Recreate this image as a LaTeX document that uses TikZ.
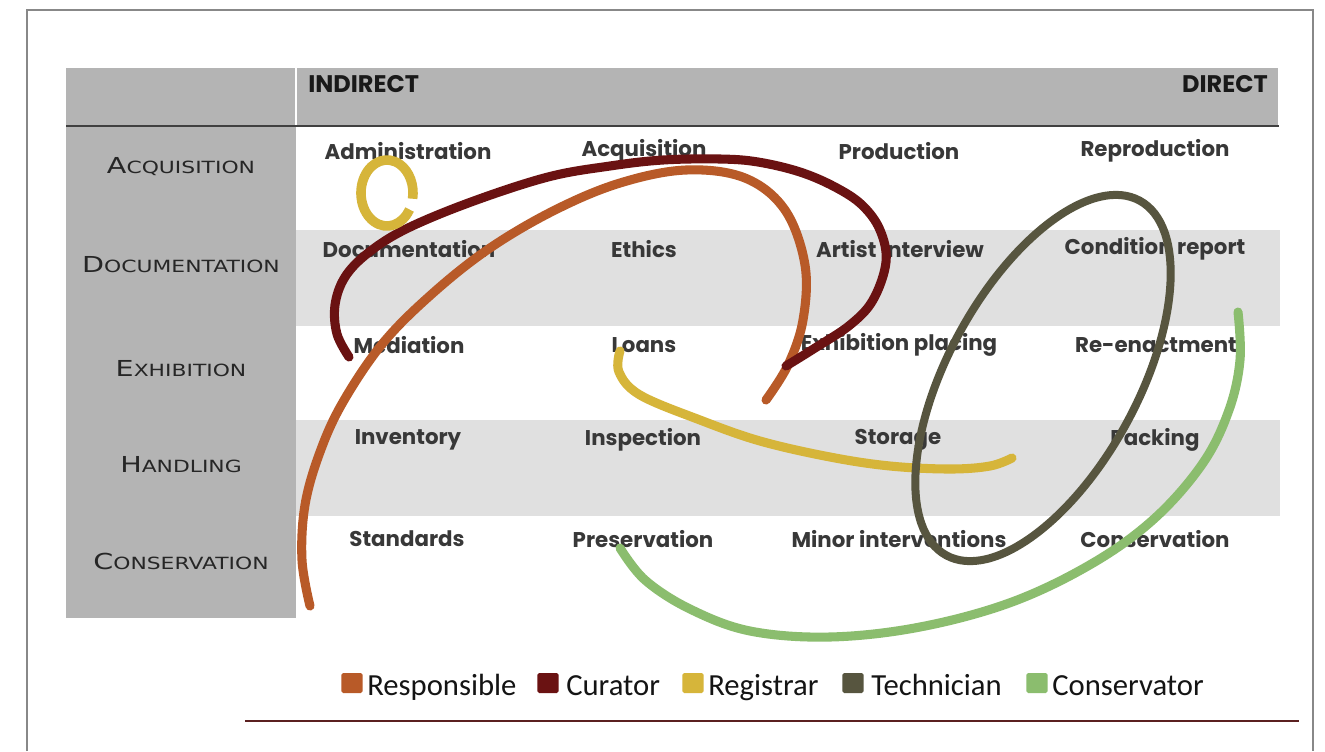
\documentclass[tikz,border=0pt]{standalone}
\usepackage{fontspec}
\newfontfamily\cellfont{Poppins}
\newfontfamily\lblfont[FakeStretch=1.3]{DejaVu Sans}
\newfontfamily\legfont{Carlito}
\newcommand\fakesc[2]{{\fontsize{16.5}{17}\selectfont #1}{\fontsize{12.6}{13}\selectfont #2}}
\definecolor{hdrgray}{HTML}{B4B4B4}
\definecolor{bandgray}{HTML}{E0E0E0}
\definecolor{rulegray}{HTML}{404040}
\definecolor{framegray}{HTML}{888888}
\definecolor{txtdark}{HTML}{383838}
\definecolor{cResp}{HTML}{B85A28}
\definecolor{cCur}{HTML}{6A1212}
\definecolor{cReg}{HTML}{D6B53A}
\definecolor{cTech}{HTML}{57553F}
\definecolor{cCons}{HTML}{8BBD6E}
\definecolor{bline}{HTML}{5B2020}
\begin{document}
\begin{tikzpicture}[x=0.75pt,y=-0.75pt,
  hdr/.style={inner sep=0pt,font=\cellfont\bfseries\fontsize{18}{18}\selectfont,text=black!90},
  rowlbl/.style={inner sep=0pt,font=\lblfont,text=black!85},
  cell/.style={inner sep=0pt,font=\cellfont\bfseries\fontsize{16}{16}\selectfont,text=txtdark},
  legsq/.style={inner sep=0pt,minimum width=15.8pt,minimum height=15pt,rounded corners=1.2pt,draw=none},
  legtxt/.style={inner sep=0pt,anchor=base west,font=\legfont\fontsize{23}{23}\selectfont,text=black!92},
  role/.style={line width=6.8pt,line cap=round,line join=round},
]
\useasboundingbox (0,0) rectangle (1325,751);
\fill[white] (0,0) rectangle (1325,751);
% outer frame
\draw[framegray,line width=1.1pt] (27,751) -- (27,10) -- (1313,10) -- (1313,751);
% table background
\fill[hdrgray] (66,68) rectangle (1278,125);
\draw[white,line width=0.8pt] (296,68) -- (296,125);
\fill[hdrgray] (66,127) rectangle (296,618);
\fill[bandgray] (296,230) rectangle (1280,326);
\fill[bandgray] (296,420) rectangle (1280,516);
\draw[rulegray,line width=2.2pt] (66,126) -- (1279,126);
% header
\node[hdr,anchor=west] (indirect) at (308,84) {INDIRECT};
\node[hdr,anchor=east] (direct) at (1268,84) {DIRECT};
% row labels
\node[rowlbl] (rAcq) at (181,167) {\fakesc{A}{CQUISITION}};
\node[rowlbl] (rDoc) at (181,265) {\fakesc{D}{OCUMENTATION}};
\node[rowlbl] (rExh) at (181,369) {\fakesc{E}{XHIBITION}};
\node[rowlbl] (rHan) at (181,465) {\fakesc{H}{ANDLING}};
\node[rowlbl] (rCon) at (181,561) {\fakesc{C}{ONSERVATION}};
% cells
\node[cell] (c11) at (408,151) {Administration};
\node[cell] (c12) at (644,151) {Acquisition};
\node[cell] (c13) at (899,151) {Production};
\node[cell] (c14) at (1155,151) {Reproduction};
\node[cell] (c21) at (409,249) {Documentation};
\node[cell] (c22) at (644,249) {Ethics};
\node[cell] (c23) at (900,249) {Artist interview};
\node[cell] (c24) at (1155,249) {Condition report};
\node[cell] (c31) at (409,345) {Mediation};
\node[cell] (c32) at (644,345) {Loans};
\node[cell] (c33) at (899,345) {Exhibition placing};
\node[cell] (c34) at (1156,345) {Re-enactment};
\node[cell] (c41) at (408,440) {Inventory};
\node[cell] (c42) at (643,440) {Inspection};
\node[cell] (c43) at (898,440) {Storage};
\node[cell] (c44) at (1155,440) {Packing};
\node[cell] (c51) at (407,539) {Standards};
\node[cell] (c52) at (643,539) {Preservation};
\node[cell] (c53) at (899,539) {Minor interventions};
\node[cell] (c54) at (1155,539) {Conservation};
% role curves
\draw[role,cResp] plot[smooth,tension=0.6] coordinates {(310,606) (302,560) (305,505) (320,452) (343,402) (383,343) (433,293) (490,248) (555,210) (620,183) (686,170) (745,178) (785,210) (805,265) (803,320) (788,365) (766,400)};
\draw[role,cCur] plot[smooth,tension=0.6] coordinates {(349,357) (337,334) (335,305) (345,277) (368,253) (406,229) (471,202) (548,177) (610,166) (663,160) (720,159) (758,162) (800,172) (835,187) (862,205) (880,230) (886,262) (873,300) (850,325) (815,348) (786,366)};
\draw[role,cReg,line width=7.2pt,line cap=butt] (387,193) ++(30:26 and 33) arc[start angle=30,end angle=370,x radius=26,y radius=33];
\draw[role,cReg] plot[smooth,tension=0.6] coordinates {(620,351) (619,372) (640,395) (700,420) (760,441) (830,457) (890,466) (950,469) (990,466) (1012,458)};
\draw[role,cTech,line width=6pt,rotate around={61.4:(1043,378)}] (1043,378) ellipse[x radius=202,y radius=95];
\draw[role,cCons] plot[smooth,tension=0.6] coordinates {(1238,312) (1240,360) (1229,410) (1203,463) (1155,518) (1093,563) (1012,602) (920,627) (830,637) (750,631) (690,609) (645,580) (620,548)};
% legend
\node[legsq,fill=cResp] (sqResp) at (352,683) {};
\node[legtxt] (tResp) at (367,695) {Responsible};
\node[legsq,fill=cCur] (sqCur) at (548,683) {};
\node[legtxt] (tCur) at (566,695) {Curator};
\node[legsq,fill=cReg] (sqReg) at (693,683) {};
\node[legtxt] (tReg) at (708,695) {Registrar};
\node[legsq,fill=cTech] (sqTech) at (853,683) {};
\node[legtxt] (tTech) at (871,695) {Technician};
\node[legsq,fill=cCons] (sqCons) at (1037,683) {};
\node[legtxt] (tCons) at (1052,695) {Conservator};
% bottom rule
\draw[bline,line width=1.4pt] (245,721) -- (1299,721);
\end{tikzpicture}
\end{document}
